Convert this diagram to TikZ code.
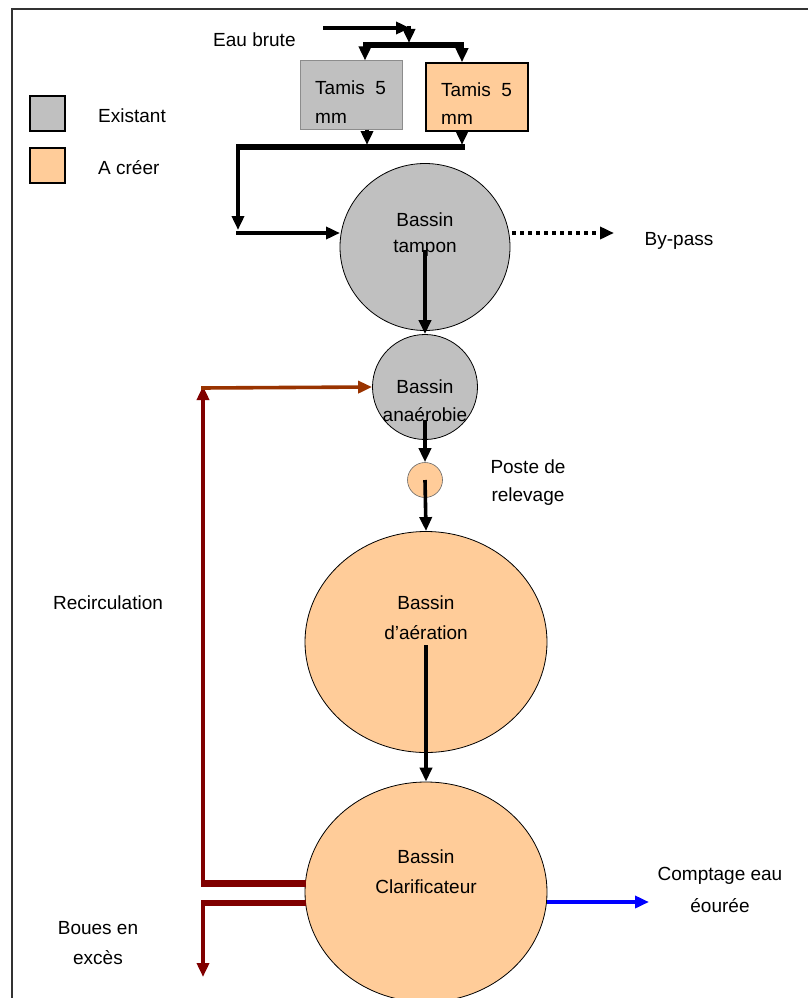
\documentclass[tikz,border=0pt]{standalone}
\usepackage{fontspec}
\setmainfont{Liberation Sans}
\usetikzlibrary{arrows.meta,shapes.geometric,calc}
\definecolor{grisx}{HTML}{C0C0C0}
\definecolor{orangex}{HTML}{FFCC99}
\definecolor{rougex}{HTML}{800000}
\definecolor{brunx}{HTML}{993300}
\tikzset{
  tip/.style={-{Triangle[length=14pt,width=12pt]}},
  arr/.style={tip, line width=3.6pt},
  bar/.style={line width=6pt},
  basin/.style={ellipse, draw=black, line width=0.8pt, inner sep=0pt},
  lbl/.style={font=\fontsize{19}{30}\selectfont, inner sep=0pt},
  tamis/.style={rectangle, minimum width=102pt, minimum height=68pt, inner sep=0pt}
}
\begin{document}
\begin{tikzpicture}[x=1pt,y=-1pt]
\useasboundingbox (0,0) rectangle (808,998);
\clip (0,0) rectangle (808,998);
% frame
\draw[line width=1.5pt, black!80] (12,998) -- (12,9) -- (808,9);
% legend
\node[draw=black, line width=1.5pt, fill=grisx, minimum size=35pt, inner sep=0pt] (legA) at (47.5,113.5) {};
\node[draw=black, line width=1.5pt, fill=orangex, minimum size=35pt, inner sep=0pt] (legB) at (47.5,165.5) {};
\node[lbl, anchor=west] (legAt) at (98,116) {Existant};
\node[lbl, anchor=west] (legBt) at (98,168) {A créer};
% eau brute
\node[lbl, anchor=west] (eau) at (213,40) {Eau brute};
\coordinate (e0) at (323,28);
\coordinate (e1) at (410,28);
\coordinate (e2) at (409,43);
\coordinate (s0) at (365,45);
\coordinate (s1) at (462,45);
\draw[arr] (e0) -- (e1);
\draw[arr] (409,26) -- (e2);
\draw[bar] ($(s0)+(-1.8,0)$) -- ($(s1)+(1.8,0)$);
% tamis boxes
\node[tamis, draw=black!45, line width=1pt, fill=grisx] (t1) at (351,95) {};
\node[tamis, draw=black, line width=1.5pt, fill=orangex] (t2) at (477,97) {};
\node[lbl, anchor=west] (t1a) at (315,88) {Tamis\ \ 5};
\node[lbl, anchor=west] (t1b) at (315,118) {mm};
\node[lbl, anchor=west] (t2a) at (441,90) {Tamis\ \ 5};
\node[lbl, anchor=west] (t2b) at (441,119) {mm};
\draw[arr] (s0) -- (t1.north -| s0);
\draw[arr] (s1) -- (t2.north -| s1);
% collector
\coordinate (c0) at (238,147);
\coordinate (c1) at (463,147);
\coordinate (c2) at (238,230);
\coordinate (c3) at (238,233);
\coordinate (c4) at (340,233);
\draw[arr] (t1.south -| 367,0) -- (367,145);
\draw[arr] (t2.south -| 462,0) -- (462,145);
\draw[bar] ($(c0)+(-1.8,0)$) -- ($(c1)+(1.5,0)$);
\draw[arr] (c0) -- (c2);
\draw[arr] ($(c3)+(-1.8,0)$) -- (c4);
% bassin tampon
\node[basin, fill=grisx, minimum width=170pt, minimum height=167pt] (tampon) at (425,247) {};
\node[lbl] (tampA) at (425,220) {Bassin};
\node[lbl] (tampB) at (425,248) {tampon};
\coordinate (bp0) at (512,233);
\coordinate (bp1) at (614,233);
\draw[tip, line width=3.6pt, dash pattern=on 4pt off 4pt] (bp0) -- (bp1);
\node[lbl] (bypass) at (679,241) {By-pass};
% anaerobie
\node[basin, fill=grisx, minimum width=105pt, minimum height=105pt] (anae) at (425,387) {};
\draw[arr] (425,250) -- (anae.north);
\node[lbl] (anaA) at (425,387) {Bassin};
\node[lbl] (anaB) at (425,415) {anaérobie};
% poste de relevage
\node[circle, draw=black!60, line width=0.6pt, fill=orangex, minimum size=35pt, inner sep=0pt] (poste) at (425,480) {};
\draw[arr] ($(anae.center)+(0,33)$) -- (poste.north);
\node[lbl] (posteA) at (528,467) {Poste de};
\node[lbl] (posteB) at (528,497) {relevage};
% aeration
\node[basin, fill=orangex, minimum width=242pt, minimum height=221pt] (aer) at (426,642) {};
\draw[arr] (poste.center) -- (aer.north);
\node[lbl] (aerA) at (426,603) {Bassin};
\node[lbl] (aerB) at (426,633) {d'aération};
% clarificateur
\node[basin, fill=orangex, minimum width=242pt, minimum height=220pt] (clar) at (426,892) {};
\draw[arr] ($(aer.center)+(0,3)$) -- (clar.north);
\node[lbl] (clarA) at (426,857) {Bassin};
\node[lbl] (clarB) at (426,887) {Clarificateur};
% effluent
\coordinate (ef0) at (547,902);
\coordinate (ef1) at (649,902);
\draw[tip, line width=3.6pt, blue] (ef0) -- (ef1);
\node[lbl] (compA) at (720,876) {Comptage eau};
\node[lbl] (compB) at (720,906) {éourée};
% recirculation
\coordinate (r0) at (306,883);
\coordinate (r1) at (203,883);
\coordinate (r2) at (203,386);
\coordinate (r3) at (306,903);
\coordinate (r4) at (203,903);
\coordinate (r5) at (203,977);
\draw[rougex, line width=7pt] (r0) -- ($(r1)+(-1.8,0)$);
\draw[rougex, line width=3.6pt, tip] ($(r1)+(0,3)$) -- (r2);
\draw[brunx, line width=3.6pt, tip] ($(r2)+(-1.8,2)$) -- (anae.west);
\draw[rougex, line width=6pt] (r3) -- ($(r4)+(-1.8,0)$);
\draw[rougex, line width=3.6pt, tip] ($(r4)+(0,-2)$) -- (r5);
\node[lbl] (recirc) at (108,603) {Recirculation};
\node[lbl] (bouesA) at (98,928) {Boues en};
\node[lbl] (bouesB) at (98,958) {excès};
\end{tikzpicture}
\end{document}
